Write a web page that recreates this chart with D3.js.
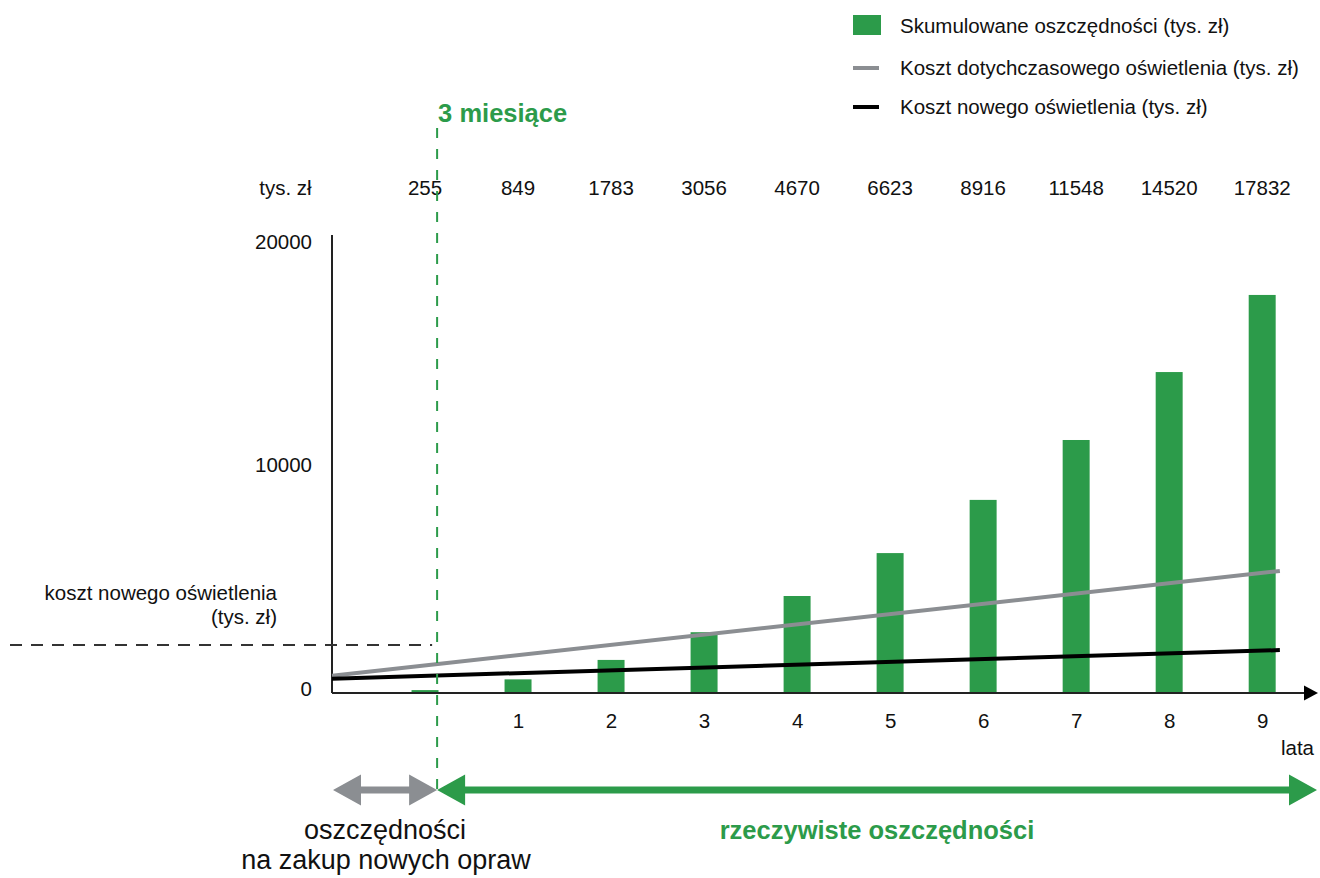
<!DOCTYPE html>
<meta charset="utf-8">
<head>
<title>Skumulowane oszczędności</title>
<style>
  body { margin: 0; background: #fff; }
  svg { font-family: "Liberation Sans", Arial, sans-serif; }
  .lbl { font-size: 20.5px; fill: #111; }
  .axis text { font-size: 20.5px; fill: #111; font-family: "Liberation Sans", Arial, sans-serif; }
</style>
<script src="https://cdn.jsdelivr.net/npm/d3@7"></script>
</head>
<body>
<script>

// data
var years = [0, 1, 2, 3, 4, 5, 6, 7, 8, 9];
var xTickLabels = [1, 2, 3, 4, 5, 6, 7, 8, 9];
var topLabels = [255, 849, 1783, 3056, 4670, 6623, 8916, 11548, 14520, 17832];
var savings = [130, 610, 1480, 2720, 4340, 6260, 8640, 11320, 14360, 17810];
var oldCostYears = [-1, 9.19];
var oldCost = [770, 5460];
var newCostYears = [-1, 9.19];
var newCost = [640, 1920];
var yTicks = [0, 10000, 20000];
var newCostLevel = 2150;
var breakEven = 0.13;

var green = "#2c9b4a", grey = "#8b8e92";

var svg = d3.select("body").append("svg")
    .attr("width", 1320)
    .attr("height", 878);

var x = d3.scaleLinear().domain([-1, 9.6]).range([332, 1318]);
var y = d3.scaleLinear().domain([0, 20000]).range([693, 246]);
var barW = (x(1) - x(0)) * 0.29;

// legend
var lg = svg.append("g");
lg.append("rect").attr("x", 853).attr("y", 15).attr("width", 28).attr("height", 20).attr("fill", green);
lg.append("line").attr("x1", 853).attr("x2", 879).attr("y1", 68).attr("y2", 68)
    .attr("stroke", grey).attr("stroke-width", 4);
lg.append("line").attr("x1", 853).attr("x2", 879).attr("y1", 107).attr("y2", 107)
    .attr("stroke", "#000").attr("stroke-width", 4);
[["Skumulowane oszczędności (tys. zł)", 26],
 ["Koszt dotychczasowego oświetlenia (tys. zł)", 68],
 ["Koszt nowego oświetlenia (tys. zł)", 107]].forEach(function(d) {
  lg.append("text").attr("class", "lbl").attr("x", 900).attr("y", d[1])
      .attr("dy", "0.35em").text(d[0]);
});

// top value row
svg.append("text").attr("class", "lbl")
    .attr("x", x(-1.5)).attr("y", 188).attr("dy", "0.35em")
    .attr("text-anchor", "middle").text("tys. zł");
svg.selectAll("text.top")
    .data(years)
  .enter().append("text")
    .attr("class", "lbl top")
    .attr("x", function(d) { return x(d); })
    .attr("y", 188).attr("dy", "0.35em")
    .attr("text-anchor", "middle")
    .text(function(d, i) { return topLabels[i]; });

svg.append("text")
    .attr("x", x(breakEven) + 1).attr("y", 113).attr("dy", "0.35em")
    .style("font-size", "25.5px").style("font-weight", "bold")
    .attr("fill", green).text("3 miesiące");

// bars
svg.selectAll("rect.bar")
    .data(years)
  .enter().append("rect")
    .attr("class", "bar")
    .attr("fill", green)
    .attr("x", function(d) { return x(d) - barW / 2; })
    .attr("width", barW)
    .attr("y", function(d, i) { return y(savings[i]); })
    .attr("height", function(d, i) { return y(0) - y(savings[i]); });

// axes
var yAxis = d3.axisLeft(y).tickValues(yTicks).tickSize(0).tickPadding(20).tickFormat(d3.format("d"));
var gy = svg.append("g").attr("class", "axis").attr("transform", "translate(" + x(-1) + ",0)").call(yAxis);
gy.select(".domain").remove();
gy.selectAll("text").attr("dy", "0.1em");

svg.append("line").attr("x1", x(-1)).attr("x2", x(-1)).attr("y1", 235).attr("y2", y(0))
    .attr("stroke", "#222").attr("stroke-width", 2);
svg.append("line").attr("x1", x(-1)).attr("x2", 1306).attr("y1", y(0)).attr("y2", y(0))
    .attr("stroke", "#222").attr("stroke-width", 2);
svg.append("path")
    .attr("d", "M1304," + (y(0) - 7.5) + "L1318," + y(0) + "L1304," + (y(0) + 7.5) + "Z")
    .attr("fill", "#000");

var xAxis = d3.axisBottom(x).tickValues(xTickLabels).tickSize(0).tickPadding(20);
var gx = svg.append("g").attr("class", "axis").attr("transform", "translate(0," + y(0) + ")").call(xAxis);
gx.select(".domain").remove();

svg.append("text").attr("class", "lbl")
    .attr("x", 1314).attr("y", 748).attr("dy", "0.35em")
    .attr("text-anchor", "end").text("lata");

// cost lines
var line = d3.line()
    .x(function(d) { return x(d[0]); })
    .y(function(d) { return y(d[1]); });

svg.append("path")
    .datum(d3.zip(oldCostYears, oldCost))
    .attr("d", line).attr("fill", "none")
    .attr("stroke", grey).attr("stroke-width", 4);
svg.append("path")
    .datum(d3.zip(newCostYears, newCost))
    .attr("d", line).attr("fill", "none")
    .attr("stroke", "#000").attr("stroke-width", 4);

// new lighting cost marker
svg.append("line")
    .attr("x1", 10).attr("x2", x(breakEven) - 5)
    .attr("y1", y(newCostLevel)).attr("y2", y(newCostLevel))
    .attr("stroke", "#333").attr("stroke-width", 2).attr("stroke-dasharray", "12,9");
svg.append("text").attr("class", "lbl")
    .attr("x", 277).attr("y", 593).attr("dy", "0.35em")
    .attr("text-anchor", "end").text("koszt nowego oświetlenia");
svg.append("text").attr("class", "lbl")
    .attr("x", 277).attr("y", 617).attr("dy", "0.35em")
    .attr("text-anchor", "end").text("(tys. zł)");

// bottom arrows
function doubleArrow(x1, x2, yy, color) {
  var hl = 28, hh = 15.5, sh = 3.5;
  var p = [
    [x1, yy], [x1 + hl, yy - hh], [x1 + hl, yy - sh], [x2 - hl, yy - sh], [x2 - hl, yy - hh],
    [x2, yy], [x2 - hl, yy + hh], [x2 - hl, yy + sh], [x1 + hl, yy + sh], [x1 + hl, yy + hh]
  ];
  svg.append("path").attr("d", "M" + p.join("L") + "Z").attr("fill", color);
}
doubleArrow(x(-1) + 1, x(breakEven), 790, grey);
doubleArrow(x(breakEven), 1317, 790, green);

svg.append("text").attr("x", 385).attr("y", 830).attr("dy", "0.35em")
    .attr("text-anchor", "middle").style("font-size", "27px").attr("fill", "#111")
    .text("oszczędności");
svg.append("text").attr("x", 386).attr("y", 860).attr("dy", "0.35em")
    .attr("text-anchor", "middle").style("font-size", "27px").attr("fill", "#111")
    .text("na zakup nowych opraw");
svg.append("text").attr("x", 877).attr("y", 830).attr("dy", "0.35em")
    .attr("text-anchor", "middle").style("font-size", "25.5px").style("font-weight", "bold")
    .attr("fill", green).text("rzeczywiste oszczędności");

// break-even dashed line
svg.append("line")
    .attr("x1", x(breakEven)).attr("x2", x(breakEven))
    .attr("y1", 128).attr("y2", 790)
    .attr("stroke", green).attr("stroke-width", 2).attr("stroke-dasharray", "10,11");

</script>
</body>
